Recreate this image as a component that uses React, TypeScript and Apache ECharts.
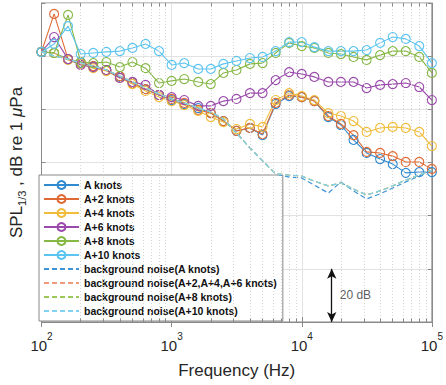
import React, { useEffect, useRef } from "react";
import * as echarts from "echarts";

const FREQS = [100, 125, 160, 200, 250, 315, 400, 500, 630, 800, 1000, 1250, 1600, 2000, 2500, 3150, 4000, 5000, 6300, 8000, 10000, 12500, 16000, 20000, 25000, 31500, 40000, 50000, 63000, 80000, 100000];

const A0 = [101.6, 101.2, 98.9, 97.4, 96.3, 94.8, 92.2, 89.9, 87.6, 85.4, 83.5, 82.0, 80.5, 78.6, 75.6, 71.9, 73.0, 70.3, 82.0, 85.0, 84.6, 83.1, 77.1, 74.1, 68.5, 63.6, 61.3, 59.4, 56.1, 56.4, 56.4];
const A2 = [101.6, 115.9, 98.9, 97.8, 96.3, 94.8, 92.5, 89.9, 87.6, 85.4, 83.9, 82.4, 79.8, 78.6, 75.6, 71.9, 73.0, 70.7, 82.4, 85.4, 84.6, 83.1, 77.5, 74.5, 70.3, 64.0, 63.6, 62.4, 60.2, 60.2, 57.6];
const A4 = [101.6, 101.2, 98.6, 97.1, 95.5, 94.4, 91.8, 89.5, 86.9, 84.6, 83.1, 81.6, 79.4, 77.1, 75.2, 72.6, 74.5, 73.4, 83.5, 86.1, 85.0, 83.5, 78.6, 77.5, 75.6, 71.5, 73.0, 73.4, 73.0, 71.5, 66.2];
const A6 = [101.6, 107.2, 98.9, 96.7, 95.9, 94.8, 91.8, 90.3, 89.2, 85.4, 84.6, 83.5, 81.3, 81.3, 83.1, 83.9, 86.1, 86.1, 91.0, 94.0, 93.3, 92.2, 90.3, 90.3, 90.3, 88.0, 89.2, 89.5, 89.9, 88.4, 83.5];
const A8 = [101.6, 101.2, 115.5, 97.8, 97.4, 97.8, 95.9, 97.8, 95.5, 89.9, 90.7, 91.4, 90.3, 89.5, 93.7, 94.8, 97.1, 97.4, 101.2, 105.0, 103.8, 103.1, 101.2, 100.8, 99.7, 98.6, 100.4, 101.9, 101.9, 99.7, 93.7];
const A10 = [101.6, 104.6, 111.3, 100.8, 101.2, 101.6, 101.9, 103.1, 104.6, 101.9, 96.7, 97.4, 95.2, 95.2, 97.1, 98.2, 99.3, 99.7, 101.9, 105.3, 105.3, 103.4, 101.9, 101.9, 101.9, 102.3, 105.0, 107.2, 106.5, 103.8, 97.4];

const NOISE_A = [101.6, 100.1, 98.9, 97.4, 96.3, 94.8, 92.5, 90.3, 88.0, 85.8, 83.9, 82.4, 80.5, 79.0, 76.4, 71.1, 65.5, 60.6, 55.7, 54.5, 54.2, 51.5, 48.5, 52.7, 49.3, 46.3, 48.2, 50.4, 52.7, 54.9, 57.2];
const NOISE_A2_6 = [101.6, 100.1, 98.9, 97.4, 96.3, 94.8, 92.5, 90.3, 88.0, 85.8, 83.9, 82.4, 80.5, 79.0, 76.4, 71.1, 65.5, 60.6, 55.7, 55.3, 54.9, 53.0, 51.2, 52.3, 50.0, 47.8, 49.3, 51.2, 53.4, 55.3, 57.2];
const NOISE_A8 = [101.6, 100.1, 98.9, 97.4, 96.3, 94.8, 92.5, 90.3, 88.0, 85.8, 83.9, 82.4, 80.5, 79.0, 76.4, 71.1, 65.5, 60.6, 55.7, 55.3, 54.9, 53.0, 51.2, 52.3, 50.0, 47.8, 49.3, 51.2, 53.4, 55.3, 57.2];
const NOISE_A10 = [101.6, 100.1, 98.9, 97.4, 96.3, 94.8, 92.5, 90.3, 88.0, 85.8, 83.9, 82.4, 80.5, 79.0, 76.4, 71.1, 65.5, 60.6, 55.7, 55.3, 54.9, 53.0, 51.2, 52.3, 50.0, 47.8, 49.3, 51.2, 53.4, 55.3, 57.2];

const SERIES_NAMES = ["A knots", "A+2 knots", "A+4 knots", "A+6 knots", "A+8 knots", "A+10 knots"];
const NOISE_NAMES = [
  "background noise(A knots)",
  "background noise(A+2,A+4,A+6 knots)",
  "background noise(A+8 knots)",
  "background noise(A+10 knots)",
];
const X_MIN = 100;
const X_MAX = 100000;
const Y_MIN = 0;
const Y_MAX = 120;
const Y_STEP = 20;
const SCALE_BAR_F = 17000;
const SCALE_BAR_DB = [0, 20];

const COLORS = ["#2f8ad0", "#e06a35", "#f0bc3a", "#9a4aab", "#86b845", "#5cc4f0"];
const NOISE_COLORS = ["#3f94d6", "#ef9a7a", "#9cc85a", "#7fd2f2"];

const FONT = "'Liberation Sans', Arial, Helvetica, sans-serif";

function buildOption() {
  const valueSets = [A0, A2, A4, A6, A8, A10];
  const noiseSets = [NOISE_A, NOISE_A2_6, NOISE_A8, NOISE_A10];

  const minor: number[] = [];
  [100, 1000, 10000].forEach((d) => {
    for (let k = 2; k <= 9; k++) minor.push(k * d);
  });

  const helper: any = {
    type: "line",
    data: [],
    z: 1,
    silent: true,
    markLine: {
      silent: true,
      symbol: "none",
      animation: false,
      label: { show: false },
      lineStyle: { color: "#d6d6d6", type: [1, 2], width: 1 },
      data: minor.map((f) => ({ xAxis: f })),
    },
  };
  const tickHelper: any = {
    type: "line",
    data: [],
    z: 1,
    silent: true,
    markLine: {
      silent: true,
      symbol: "none",
      animation: false,
      label: { show: false },
      lineStyle: { color: "#8a8a8a", type: "solid", width: 1 },
      data: [
        ...minor.map((f) => [{ coord: [f, Y_MIN] }, { coord: [f, Y_MIN + 1.3] }]),
        ...minor.map((f) => [{ coord: [f, Y_MAX - 1.3] }, { coord: [f, Y_MAX] }]),
      ],
    },
  };

  const mainSeries = valueSets.map((vals, i) => ({
    name: SERIES_NAMES[i],
    type: "line",
    data: FREQS.map((f, j) => [f, vals[j]]),
    symbol: "circle",
    symbolSize: 9,
    z: 3,
    lineStyle: { color: COLORS[i], width: 1.1 },
    itemStyle: { color: "rgba(255,255,255,0)", borderColor: COLORS[i], borderWidth: 1.1 },
    emphasis: { disabled: true },
  }));

  const noiseSeries = noiseSets.map((vals, i) => ({
    name: NOISE_NAMES[i],
    type: "line",
    data: FREQS.map((f, j) => [f, vals[j]]),
    symbol: "none",
    z: 4,
    lineStyle: { color: NOISE_COLORS[i], width: 1.2, type: [5, 3] },
    itemStyle: { color: NOISE_COLORS[i] },
    emphasis: { disabled: true },
  }));

  const scaleBar: any = {
    type: "scatter",
    data: [[SCALE_BAR_F, (SCALE_BAR_DB[0] + SCALE_BAR_DB[1]) / 2]],
    symbolSize: 0,
    z: 5,
    silent: true,
    label: {
      show: true,
      position: "right",
      distance: 8,
      formatter: `${SCALE_BAR_DB[1] - SCALE_BAR_DB[0]} dB`,
      fontSize: 12,
      fontFamily: FONT,
      color: "#333",
    },
    markLine: {
      silent: true,
      symbol: ["arrow", "arrow"],
      symbolSize: [7, 10],
      animation: false,
      label: { show: false },
      lineStyle: { color: "#111", width: 1.3, type: "solid" },
      data: [[{ coord: [SCALE_BAR_F, SCALE_BAR_DB[0]] }, { coord: [SCALE_BAR_F, SCALE_BAR_DB[1]] }]],
    },
  };

  return {
    animation: false,
    backgroundColor: "#fff",
    grid: {
      left: 38,
      right: 14,
      top: 3,
      bottom: 63,
      show: true,
      borderColor: "#8a8a8a",
      borderWidth: 1,
      backgroundColor: "#fff",
    },
    legend: {
      show: true,
      data: [
        ...SERIES_NAMES.map((n) => ({ name: n })),
        ...NOISE_NAMES.map((n) => ({ name: n, itemStyle: { opacity: 0 } })),
      ],
      orient: "vertical",
      left: 39,
      top: 175,
      padding: [4, 6, 4, 4],
      itemGap: 2,
      itemWidth: 35,
      itemHeight: 10,
      backgroundColor: "#fff",
      borderColor: "#888",
      borderWidth: 1,
      selectedMode: false,
      textStyle: {
        fontSize: 10.5,
        fontWeight: "bold",
        fontFamily: FONT,
        color: "#111",
        lineHeight: 12,
        padding: [0, 0, 0, 0],
      },
    },
    xAxis: [
      {
        type: "log",
        logBase: 10,
        min: X_MIN,
        max: X_MAX,
        name: "Frequency (Hz)",
        nameLocation: "middle",
        nameGap: 40,
        nameTextStyle: { fontSize: 17, fontFamily: FONT, color: "#262626" },
        axisLine: { show: true, lineStyle: { color: "#8a8a8a" } },
        axisTick: { show: true, inside: true, length: 5, lineStyle: { color: "#8a8a8a" } },
        splitLine: { show: true, lineStyle: { color: "#e2e2e2", width: 1 } },
        axisLabel: {
          margin: 9,
          formatter: (v: number) => `{b|10}{p|${Math.round(Math.log10(v))}}`,
          rich: {
            b: { fontSize: 15, fontFamily: FONT, color: "#262626", lineHeight: 22, verticalAlign: "bottom" },
            p: { fontSize: 10, fontFamily: FONT, color: "#262626", lineHeight: 22, verticalAlign: "top" },
          },
        },
      },
      {
        type: "log",
        logBase: 10,
        min: X_MIN,
        max: X_MAX,
        position: "top",
        axisLine: { show: true, lineStyle: { color: "#8a8a8a" } },
        axisTick: { show: true, inside: true, length: 5, lineStyle: { color: "#8a8a8a" } },
        axisLabel: { show: false },
        splitLine: { show: false },
      },
    ],
    yAxis: [
      {
        type: "value",
        min: Y_MIN,
        max: Y_MAX,
        interval: Y_STEP,
        name: "{a|SPL}{s|1/3}{a| , dB re 1 }{m|μ}{a|Pa}",
        nameLocation: "middle",
        nameGap: 14,
        nameRotate: 90,
        nameTextStyle: {
          fontSize: 17,
          fontFamily: FONT,
          color: "#262626",
          rich: {
            a: { fontSize: 17, fontFamily: FONT, color: "#262626", lineHeight: 22, verticalAlign: "middle" },
            s: { fontSize: 11, fontFamily: FONT, color: "#262626", lineHeight: 22, verticalAlign: "bottom" },
            m: { fontSize: 17, fontFamily: FONT, fontStyle: "italic", color: "#262626", lineHeight: 22, verticalAlign: "middle" },
          },
        },
        axisLine: { show: true, lineStyle: { color: "#8a8a8a" } },
        axisTick: { show: true, inside: true, length: 4, lineStyle: { color: "#8a8a8a" } },
        axisLabel: { show: false },
        splitLine: { show: true, lineStyle: { color: "#e2e2e2", width: 1 } },
      },
      {
        type: "value",
        min: Y_MIN,
        max: Y_MAX,
        interval: Y_STEP,
        position: "right",
        axisLine: { show: true, lineStyle: { color: "#8a8a8a" } },
        axisTick: { show: true, inside: true, length: 4, lineStyle: { color: "#8a8a8a" } },
        axisLabel: { show: false },
        splitLine: { show: false },
      },
    ],
    series: [helper, tickHelper, ...mainSeries, ...noiseSeries, scaleBar],
  };
}

export default function App() {
  const ref = useRef<HTMLDivElement>(null);
  useEffect(() => {
    if (!ref.current) return;
    const chart = echarts.init(ref.current, null, { renderer: "svg" });
    chart.setOption(buildOption() as any);
    return () => chart.dispose();
  }, []);
  return (
    <div
      ref={ref}
      style={{ position: "absolute", left: 0, top: 0, width: 446, height: 385 }}
    />
  );
}
